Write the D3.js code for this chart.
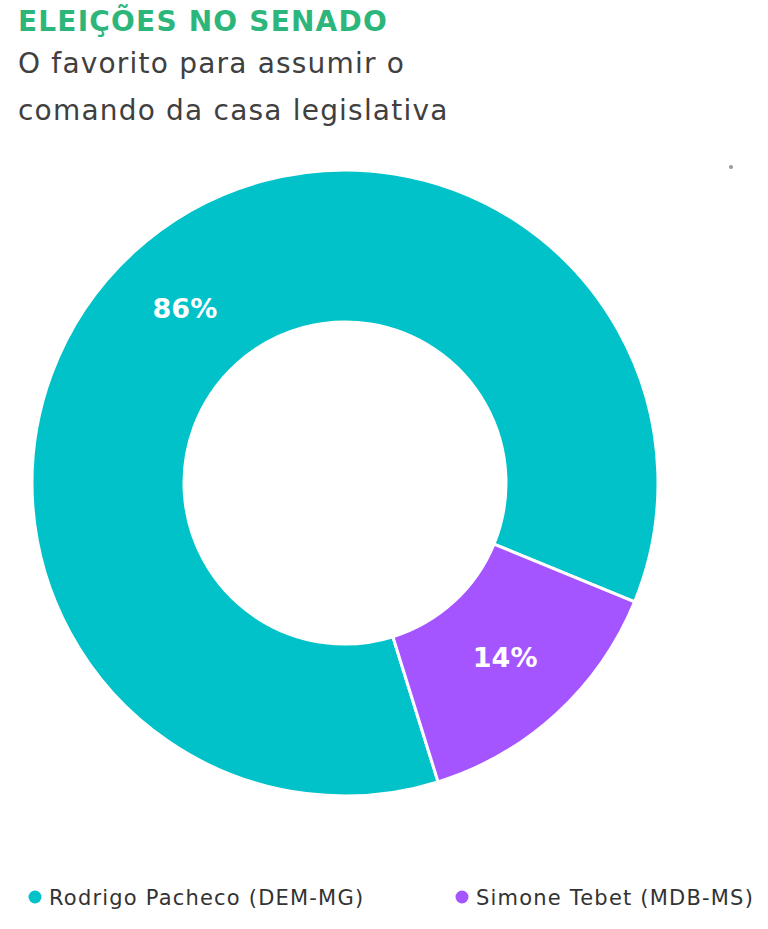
<!DOCTYPE html>
<html>
<head>
<meta charset="utf-8">
<script src="https://cdn.jsdelivr.net/npm/d3@7"></script>
<style>
  body { margin: 0; background: #fff; }
  svg { display: block; }
</style>
</head>
<body>
<svg id="chart" width="768" height="929"></svg>
<script>
// chart data
var candidates = ['Rodrigo Pacheco (DEM-MG)', 'Simone Tebet (MDB-MS)'];
var shares = [86, 14];
var colors = ['#00c2c8', '#a555ff'];

var title = 'ELEIÇÕES NO SENADO';
var subtitle = ['O favorito para assumir o', 'comando da casa legislativa'];

var svg = d3.select('#chart');
var font = 'DejaVu Sans, sans-serif';

// titles
svg.append('text')
	.attr('x', 18).attr('y', 31)
	.attr('font-family', font).attr('font-weight', 'bold')
	.attr('font-size', 28)
	.attr('letter-spacing', 1.2)
	.attr('fill', '#2cb67b')
	.text(title);

svg.selectAll('.sub').data(subtitle).enter().append('text')
	.attr('class', 'sub')
	.attr('x', 18)
	.attr('y', function(d, i){ return 73 + i * 47; })
	.attr('font-family', font)
	.attr('font-size', 28)
	.attr('letter-spacing', 1.2)
	.attr('fill', '#404040')
	.text(function(d){ return d; });

// little grey dot top right
svg.append('circle').attr('cx', 731).attr('cy', 167).attr('r', 2).attr('fill', '#999');

// donut
var cx = 345, cy = 483;
var outerR = 313, innerR = 161;
var startA = 162.7 * Math.PI / 180;

var pie = d3.pie().sort(null)
	.startAngle(startA)
	.endAngle(startA + 2 * Math.PI);

var arc = d3.arc().innerRadius(innerR).outerRadius(outerR);

var g = svg.append('g').attr('transform', 'translate(' + cx + ',' + cy + ')');
var slices = pie(shares);

g.selectAll('path').data(slices).enter().append('path')
	.attr('d', arc)
	.attr('fill', function(d, i){ return colors[i]; })
	.attr('stroke', '#fff')
	.attr('stroke-width', 3);

g.selectAll('.lbl').data(slices).enter().append('text')
	.attr('class', 'lbl')
	.attr('transform', function(d){ return 'translate(' + arc.centroid(d) + ')'; })
	.attr('text-anchor', 'middle')
	.attr('dy', '0.36em')
	.attr('font-family', font).attr('font-weight', 'bold')
	.attr('font-size', 27)
	.attr('fill', '#fff')
	.text(function(d){ return d.data + '%'; });

// legend
var legX = d3.scalePoint().domain(candidates).range([35, 462]);
var leg = svg.selectAll('.leg').data(candidates).enter().append('g')
	.attr('class', 'leg')
	.attr('transform', function(d){ return 'translate(' + legX(d) + ',897)'; });

leg.append('circle').attr('r', 6.5)
	.attr('fill', function(d, i){ return colors[i]; });

leg.append('text')
	.attr('x', 14).attr('dy', '0.36em')
	.attr('font-family', font)
	.attr('font-size', 21)
	.attr('letter-spacing', 1.2)
	.attr('fill', '#333')
	.text(function(d){ return d; });
</script>
</body>
</html>
